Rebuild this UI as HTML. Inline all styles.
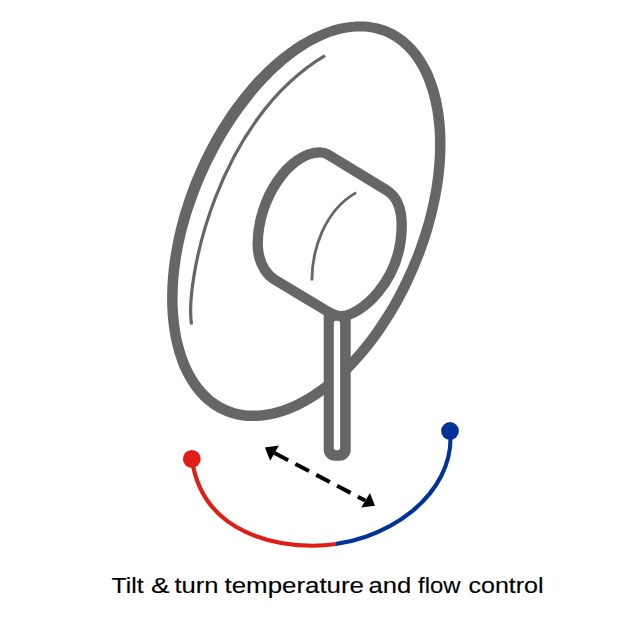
<!DOCTYPE html>
<html><head><meta charset="utf-8">
<style>
html,body{margin:0;padding:0;background:#fff;}
body{width:620px;height:620px;overflow:hidden;}
svg{display:block;}
text{font-family:"Liberation Sans",sans-serif;font-size:22.5px;fill:#000;}
</style></head>
<body>
<svg width="620" height="620" viewBox="0 0 620 620">
<rect width="620" height="620" fill="#fff"/>
<!-- disc -->
<path fill="#666" fill-rule="evenodd" d="M417.9,269.9 L414.9,276.6 L411.9,283.3 L408.7,289.9 L405.3,296.4 L401.9,302.9 L398.3,309.2 L394.6,315.4 L390.8,321.5 L386.9,327.5 L382.9,333.4 L378.8,339.2 L374.7,344.8 L370.4,350.2 L366.0,355.5 L361.6,360.6 L357.1,365.6 L352.5,370.4 L347.9,375.0 L343.2,379.4 L338.4,383.6 L333.6,387.6 L328.8,391.4 L323.9,395.0 L319.0,398.4 L314.1,401.6 L309.2,404.5 L304.2,407.2 L299.3,409.7 L294.4,411.9 L289.4,413.9 L284.5,415.7 L279.6,417.2 L274.8,418.5 L270.0,419.5 L265.2,420.3 L260.5,420.8 L255.8,421.1 L251.2,421.1 L246.7,420.9 L242.3,420.4 L237.9,419.7 L233.7,418.7 L229.5,417.5 L225.5,416.0 L221.5,414.3 L217.7,412.4 L214.0,410.3 L210.4,407.9 L207.0,405.3 L203.6,402.5 L200.4,399.5 L197.4,396.2 L194.4,392.8 L191.7,389.2 L189.0,385.3 L186.5,381.3 L184.1,377.1 L181.9,372.7 L179.8,368.2 L177.9,363.4 L176.2,358.5 L174.5,353.4 L173.1,348.2 L171.8,342.8 L170.6,337.3 L169.6,331.6 L168.8,325.8 L168.1,319.8 L167.6,313.8 L167.3,307.6 L167.1,301.3 L167.1,295.0 L167.3,288.5 L167.6,281.9 L168.1,275.3 L168.8,268.6 L169.6,261.9 L170.6,255.1 L171.8,248.2 L173.1,241.3 L174.6,234.4 L176.2,227.5 L178.0,220.5 L179.9,213.6 L182.1,206.7 L184.3,199.8 L186.7,192.9 L189.2,186.0 L191.9,179.2 L194.8,172.4 L197.7,165.7 L200.8,159.0 L204.0,152.5 L207.4,146.0 L210.8,139.6 L214.4,133.2 L218.1,127.0 L221.9,120.9 L225.8,115.0 L229.8,109.1 L233.9,103.4 L238.1,97.9 L242.4,92.4 L246.8,87.2 L251.2,82.1 L255.7,77.1 L260.3,72.4 L264.9,67.8 L269.6,63.4 L274.3,59.2 L279.1,55.2 L283.9,51.5 L288.7,47.9 L293.6,44.5 L298.5,41.3 L303.4,38.4 L308.3,35.7 L313.2,33.2 L318.1,31.0 L322.9,28.9 L327.8,27.2 L332.6,25.6 L337.4,24.3 L342.2,23.3 L346.9,22.4 L351.6,21.9 L356.2,21.5 L360.8,21.5 L365.3,21.6 L369.7,22.0 L374.0,22.7 L378.3,23.6 L382.4,24.8 L386.5,26.1 L390.4,27.8 L394.3,29.6 L398.0,31.7 L401.6,34.0 L405.1,36.6 L408.5,39.4 L411.7,42.4 L414.8,45.6 L417.8,49.0 L420.6,52.6 L423.3,56.4 L425.9,60.4 L428.3,64.7 L430.6,69.1 L432.7,73.6 L434.6,78.4 L436.4,83.3 L438.1,88.4 L439.5,93.7 L440.9,99.1 L442.0,104.6 L443.0,110.3 L443.8,116.1 L444.5,122.1 L445.0,128.2 L445.3,134.4 L445.5,140.7 L445.5,147.1 L445.3,153.5 L445.0,160.1 L444.5,166.7 L443.8,173.5 L443.0,180.2 L442.0,187.0 L440.8,193.9 L439.5,200.8 L438.0,207.7 L436.4,214.7 L434.6,221.6 L432.7,228.6 L430.6,235.5 L428.3,242.5 L425.9,249.4 L423.4,256.3 L420.7,263.1 Z M408.3,265.7 L405.4,272.3 L402.4,278.7 L399.3,285.1 L396.0,291.5 L392.7,297.7 L389.2,303.9 L385.6,309.9 L381.9,315.8 L378.1,321.6 L374.3,327.3 L370.3,332.9 L366.3,338.3 L362.1,343.6 L357.9,348.7 L353.7,353.6 L349.3,358.4 L344.9,363.0 L340.5,367.4 L336.0,371.7 L331.5,375.7 L326.9,379.5 L322.3,383.2 L317.7,386.6 L313.1,389.8 L308.5,392.8 L303.8,395.6 L299.2,398.1 L294.6,400.4 L290.0,402.5 L285.5,404.3 L281.0,405.9 L276.5,407.3 L272.1,408.4 L267.7,409.3 L263.5,410.0 L259.3,410.4 L255.2,410.6 L251.1,410.6 L247.2,410.4 L243.4,409.9 L239.7,409.3 L236.0,408.4 L232.5,407.3 L229.1,406.1 L225.8,404.6 L222.6,402.9 L219.5,401.1 L216.4,399.1 L213.5,396.9 L210.7,394.4 L207.9,391.8 L205.3,389.0 L202.7,386.1 L200.3,382.9 L197.9,379.5 L195.7,375.9 L193.6,372.2 L191.5,368.2 L189.6,364.1 L187.8,359.7 L186.2,355.2 L184.7,350.5 L183.3,345.7 L182.0,340.6 L180.9,335.4 L180.0,330.1 L179.2,324.6 L178.6,319.0 L178.1,313.2 L177.7,307.3 L177.6,301.3 L177.6,295.2 L177.8,289.0 L178.1,282.7 L178.6,276.4 L179.3,269.9 L180.1,263.4 L181.1,256.8 L182.3,250.2 L183.6,243.6 L185.1,236.9 L186.7,230.2 L188.6,223.5 L190.5,216.8 L192.6,210.1 L194.9,203.4 L197.3,196.7 L199.8,190.1 L202.4,183.5 L205.2,177.0 L208.2,170.5 L211.2,164.1 L214.4,157.7 L217.6,151.4 L221.0,145.2 L224.5,139.1 L228.1,133.1 L231.7,127.2 L235.5,121.5 L239.4,115.8 L243.3,110.3 L247.3,104.9 L251.4,99.7 L255.5,94.6 L259.7,89.6 L264.0,84.8 L268.3,80.2 L272.7,75.8 L277.1,71.5 L281.6,67.5 L286.0,63.6 L290.5,59.9 L295.1,56.5 L299.6,53.2 L304.2,50.2 L308.7,47.3 L313.2,44.7 L317.8,42.4 L322.3,40.2 L326.8,38.3 L331.2,36.6 L335.6,35.2 L340.0,33.9 L344.3,33.0 L348.6,32.2 L352.7,31.7 L356.8,31.4 L360.9,31.4 L364.8,31.5 L368.6,31.9 L372.4,32.5 L376.0,33.4 L379.6,34.4 L383.0,35.6 L386.4,37.1 L389.6,38.7 L392.8,40.5 L395.8,42.6 L398.8,44.8 L401.6,47.2 L404.4,49.8 L407.1,52.6 L409.6,55.6 L412.1,58.8 L414.5,62.2 L416.7,65.8 L418.9,69.6 L420.9,73.6 L422.8,77.8 L424.6,82.1 L426.2,86.7 L427.8,91.4 L429.1,96.2 L430.4,101.3 L431.5,106.5 L432.5,111.8 L433.3,117.3 L433.9,123.0 L434.5,128.7 L434.8,134.6 L435.0,140.7 L435.0,146.8 L434.9,153.0 L434.6,159.3 L434.1,165.7 L433.5,172.2 L432.7,178.7 L431.8,185.3 L430.7,192.0 L429.4,198.6 L428.0,205.3 L426.4,212.1 L424.7,218.8 L422.8,225.6 L420.7,232.3 L418.5,239.1 L416.2,245.8 L413.7,252.5 L411.1,259.1 Z"/>
<!-- disc highlight -->
<path d="M325,55.7 C216.9,119.9 184.9,281.4 191.5,324.4" fill="none" stroke="#666" stroke-width="3.2"/>
<!-- stem -->
<path d="M323.7,300 L350.7,300 L350.7,449.8 A11,11 0 0 1 339.7,460.8 L334.7,460.8 A11,11 0 0 1 323.7,449.8 Z" fill="#666"/>
<rect x="333.8" y="320.4" width="6.3" height="129.8" rx="2.6" ry="2.6" fill="#fff"/>
<!-- handle -->
<path d="M328.1,154.6 L387,190.5 C394,195 401.7,205 401.7,225 C401.7,281.5 360,316.2 341,316.2 C335.5,316.2 330.5,313.2 325,309.9 L275,279.9 C270.5,277.2 267.2,273.8 264.6,269.6 C261,263.8 257.7,254 257.7,244 C257.7,198.2 289.9,152.4 319.7,152.4 C323,152.4 325.5,153 328.1,154.6 Z" fill="#fff" stroke="#666" stroke-width="10.4" stroke-linejoin="round"/>
<!-- handle highlight -->
<path d="M356.1,192.6 C323.9,211.1 311.9,250.4 311.9,280.4" fill="none" stroke="#666" stroke-width="2.8"/>
<!-- temperature arc -->
<defs>
<clipPath id="cl"><rect x="0" y="400" width="335.3" height="200"/></clipPath>
<clipPath id="cr"><rect x="335.3" y="400" width="284.7" height="200"/></clipPath>
</defs>
<path d="M191.8,458.9 C202.7,536.6 281.5,545.7 313,545.7 C385.6,545.7 455.8,494.6 450.2,431" fill="none" stroke="#e11d17" stroke-width="4.1" clip-path="url(#cl)"/>
<path d="M191.8,458.9 C202.7,536.6 281.5,545.7 313,545.7 C385.6,545.7 455.8,494.6 450.2,431" fill="none" stroke="#003399" stroke-width="4.1" clip-path="url(#cr)"/>
<circle cx="191.8" cy="458.9" r="8.9" fill="#e11d17"/>
<circle cx="450" cy="431" r="8.9" fill="#003399"/>
<!-- arrow -->
<path d="M274.6,453.1 L365.2,500.5" fill="none" stroke="#000" stroke-width="4" stroke-dasharray="15.3 8.2"/>
<polygon points="264.9,447.4 278.9,445.4 270.2,460.7" fill="#000"/>
<polygon points="375,505.7 369.9,493 361.2,507.6" fill="#000"/>
<!-- caption -->
<text y="592.8" stroke="#000" stroke-width="0.15"><tspan x="111.5" textLength="32.0" lengthAdjust="spacingAndGlyphs">Tilt</tspan> <tspan x="151.0" textLength="18.6" lengthAdjust="spacingAndGlyphs">&amp;</tspan> <tspan x="174.5" textLength="44.1" lengthAdjust="spacingAndGlyphs">turn</tspan> <tspan x="224.5" textLength="139.5" lengthAdjust="spacingAndGlyphs">temperature</tspan> <tspan x="368.5" textLength="42.7" lengthAdjust="spacingAndGlyphs">and</tspan> <tspan x="418.0" textLength="42.5" lengthAdjust="spacingAndGlyphs">flow</tspan> <tspan x="468.5" textLength="75.1" lengthAdjust="spacingAndGlyphs">control</tspan></text>
</svg>
</body></html>
